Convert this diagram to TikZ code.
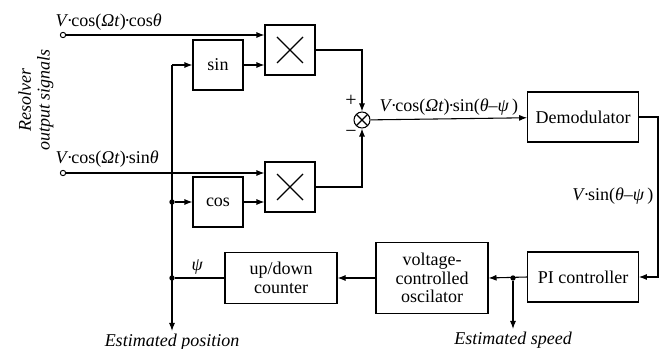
\documentclass[tikz,border=0pt]{standalone}
\usepackage{fontspec}
\setmainfont{Liberation Serif}
\usetikzlibrary{arrows.meta,calc,positioning}
\newcommand{\mdot}{\kern-0.08em·\kern-0.08em}
\tikzset{
  wire/.style={line width=0.8pt},
  flow/.style={wire, -{Latex[length=6pt,width=4.5pt]}},
  block/.style={draw, line width=0.8pt, align=center, inner sep=0pt,
    font=\fontsize{13.5}{14}\selectfont},
  mult/.style={block, minimum width=37.5pt, minimum height=37.5pt,
    path picture={
      \draw[line width=0.8pt] ($(path picture bounding box.center)+(-9.75pt,-9.75pt)$) -- ++(19.5pt,19.5pt)
        ($(path picture bounding box.center)+(-9.75pt,9.75pt)$) -- ++(19.5pt,-19.5pt);}},
  summer/.style={draw, circle, line width=0.8pt, minimum size=12pt, inner sep=0pt,
    path picture={
      \draw[line width=0.8pt] ($(path picture bounding box.center)+(-4.3pt,-4.3pt)$) -- ++(8.6pt,8.6pt)
        ($(path picture bounding box.center)+(-4.3pt,4.3pt)$) -- ++(8.6pt,-8.6pt);}},
  terminal/.style={draw, circle, line width=0.7pt, fill=white, minimum size=4pt, inner sep=0pt},
  dot/.style={fill, circle, minimum size=4pt, inner sep=0pt},
  sig/.style={font=\fontsize{13.5}{14}\selectfont, inner sep=1pt},
  outlabel/.style={font=\fontsize{13.5}{14}\selectfont\itshape, inner sep=0pt}
}

\begin{document}
\begin{tikzpicture}[x=0.75pt,y=-0.75pt]
\useasboundingbox (0,0) rectangle (665,349);

% --- Resolver inputs ---
\node[terminal] (inc) at (63,35) {};
\node[terminal] (ins) at (63,173) {};
\node[sig, anchor=west] (lblc) at (54,22) {\textit{V}\mdot cos(\textit{Ωt})\mdot cos\textit{θ}};
\node[sig, anchor=west] (lbls) at (54,159) {\textit{V}\mdot cos(\textit{Ωt})\mdot sin\textit{θ}};
\node[outlabel, rotate=90, align=center] (resolver) at (36,100) {Resolver\\output signals};

% --- Multipliers and trig blocks ---
\node[mult] (mulc) at (290,50) {};
\node[mult] (muls) at (290,187) {};
\node[block, minimum width=37.5pt, minimum height=37.5pt] (sinb) at (218,65) {sin};
\node[block, minimum width=37.5pt, minimum height=37.5pt] (cosb) at (218,202) {cos};
\node[summer] (sum) at (362,120) {};
\node[sig, font=\fontsize{15}{15}\selectfont] (plus) at (351,101) {+};
\node[sig, font=\fontsize{15}{15}\selectfont] (minus) at (351,134) {−};

% --- Tracking loop blocks ---
\node[block, minimum width=83pt, minimum height=37.5pt] (demod) at (583,117) {Demodulator};
\node[block, minimum width=83pt, minimum height=37.5pt] (pi) at (583,277) {PI controller};
\node[block, minimum width=84pt, minimum height=53pt] (vco) at (432,278) {voltage-\\controlled\\oscilator};
\node[block, minimum width=84pt, minimum height=38pt] (cnt) at (281,278) {up/down\\counter};

% --- Junctions and outputs ---
\coordinate (ctop) at (172,65);
\node[dot] (jcos) at (172,202) {};
\node[dot] (jpsi) at (172,278) {};
\coordinate (pos) at (172,331);
\node[dot] (jspd) at (513,278) {};
\coordinate (spd) at (513,329);
\coordinate (dturn) at (658,117);
\node[outlabel, anchor=north] (lblpos) at (172,334) {Estimated position};
\node[outlabel, anchor=north] (lblspd) at (513,332) {Estimated speed};

% Forward path.
\draw[flow] (inc) -- (mulc.west |- inc);
\draw[flow] (ins) -- (muls.west |- ins);
\draw[flow] (sinb) -- (mulc.west |- sinb);
\draw[flow] (cosb) -- (muls.west |- cosb);
\draw[flow] (mulc.east) -| (sum.north);
\draw[flow] (muls.east) -| (sum.south);
\draw[flow] (sum) -- node[sig, above=1pt] {\textit{V}\mdot cos(\textit{Ωt})\mdot sin(\textit{θ}–\textit{ψ}\,)} (demod);
\draw[flow] (demod.east) -- (dturn) |- (pi.east);
\node[sig, anchor=east] (lbldem) at (655,196) {\textit{V}\mdot sin(\textit{θ}–\textit{ψ}\,)};

% Feedback path.
\draw[flow] (pi.west) -- (vco.east);
\draw[flow] (vco.west) -- (cnt.east);
\draw[wire] (cnt.west) -- node[sig, above=1pt, pos=0.55] {\textit{ψ}} (jpsi);
\draw[flow] (ctop) -- (sinb.west);
\draw[flow] (ctop) -- (pos);
\draw[flow] (jcos) -- (cosb.west);
\draw[flow] (jspd) -- (spd);

\end{tikzpicture}
\end{document}
